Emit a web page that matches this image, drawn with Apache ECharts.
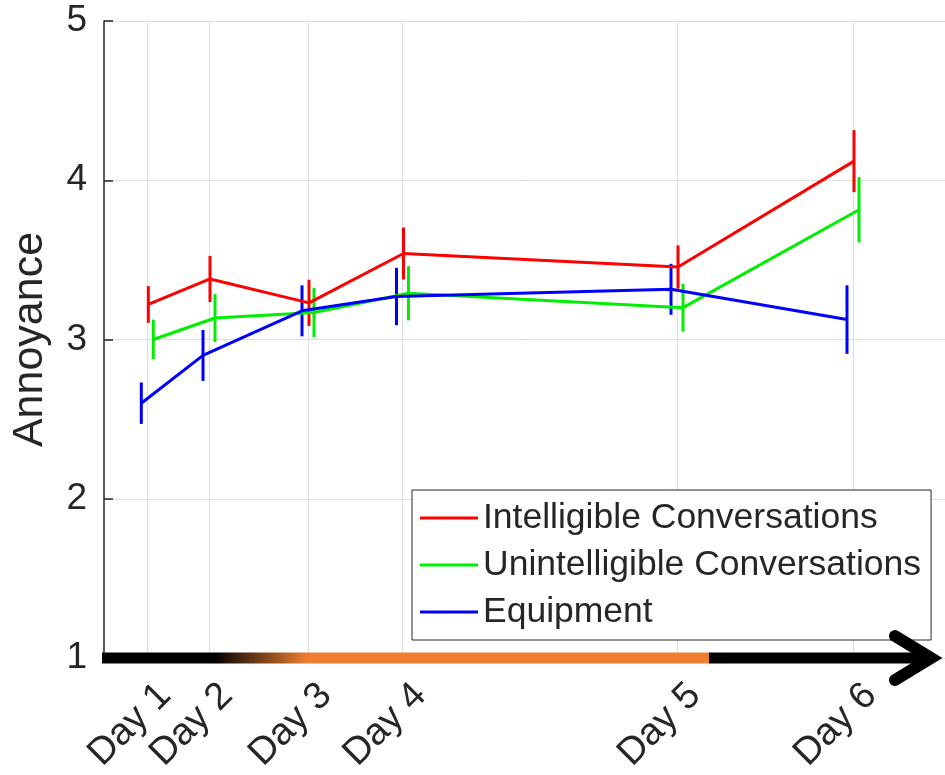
<!DOCTYPE html>
<html>
<head>
<meta charset="utf-8">
<script src="https://cdn.jsdelivr.net/npm/echarts@6/dist/echarts.min.js"></script>
<style>html,body{margin:0;padding:0;background:#fff}#c{width:945px;height:775px}</style>
</head>
<body>
<div id="c"></div>
<script>
// ---- data ----
const dayLabels = ['Day 1', 'Day 2', 'Day 3', 'Day 4', 'Day 5', 'Day 6'];
const dayPositions = [43.3, 105, 204, 298.5, 573, 749];   // x positions of the days (axis units)
const xMax = 841;
const yTicks = [1, 2, 3, 4, 5];

const seriesNames = ['Intelligible Conversations', 'Unintelligible Conversations', 'Equipment'];
const intelligibleMean = [3.22, 3.38, 3.23, 3.54, 3.455, 4.12];
const intelligibleErr  = [0.115, 0.145, 0.145, 0.163, 0.136, 0.195];
const unintelligibleMean = [3.00, 3.135, 3.17, 3.29, 3.20, 3.815];
const unintelligibleErr  = [0.125, 0.15, 0.155, 0.17, 0.15, 0.205];
const equipmentMean = [2.60, 2.90, 3.18, 3.27, 3.315, 3.125];
const equipmentErr  = [0.13, 0.16, 0.16, 0.18, 0.16, 0.215];

// timeline phases on the x axis: black -> (fade) -> orange -> black
const phaseStops = [110, 203, 605];

// ---- chart ----
const FONT = "'Liberation Sans', Arial, Helvetica, sans-serif";
const TXT = '#262626';
const colors = ['#ff0000', '#00ee00', '#0000ff'];
const offsets = [1, 6, -6];
const ORANGE = '#ED7D31';

function lineData(means, off) { return means.map((m, i) => [dayPositions[i] + off, m]); }
function errData(means, errs, off) { return means.map((m, i) => [dayPositions[i] + off, m - errs[i], m + errs[i]]); }

function lineSeries(idx, means) {
  return {
    type: 'line', name: seriesNames[idx], data: lineData(means, offsets[idx]),
    symbol: 'none', lineStyle: { color: colors[idx], width: 3 }, itemStyle: { color: colors[idx] },
    z: 3, silent: true
  };
}
function errSeries(idx, means, errs) {
  const color = colors[idx];
  return {
    type: 'custom', name: seriesNames[idx], data: errData(means, errs, offsets[idx]),
    encode: { x: 0, y: [1, 2] }, z: 3, silent: true,
    renderItem: (params, api) => {
      const x = api.value(0);
      const p1 = api.coord([x, api.value(1)]);
      const p2 = api.coord([x, api.value(2)]);
      return { type: 'line', shape: { x1: p1[0], y1: p1[1], x2: p2[0], y2: p2[1] },
               style: { stroke: color, lineWidth: 3 } };
    }
  };
}

const bandSeries = {
  type: 'custom', name: 'timeline', data: [[0, yTicks[0]]], encode: { x: 0, y: 1 },
  clip: false, silent: true, z: 6,
  renderItem: (params, api) => {
    const y = api.coord([0, yTicks[0]])[1];
    const x0 = params.coordSys.x - 2;
    const xs = phaseStops.map(v => api.coord([v, yTicks[0]])[0]);
    const tip = api.coord([xMax, yTicks[0]])[0];
    const h = 11;
    const vx = tip - 14;
    return {
      type: 'group',
      children: [
        { type: 'rect', shape: { x: x0, y: y - h / 2, width: xs[0] - x0, height: h }, style: { fill: '#000' } },
        { type: 'rect', shape: { x: xs[0], y: y - h / 2, width: xs[1] - xs[0], height: h },
          style: { fill: new echarts.graphic.LinearGradient(0, 0, 1, 0, [
            { offset: 0, color: '#000' }, { offset: 1, color: ORANGE }]) } },
        { type: 'rect', shape: { x: xs[1], y: y - h / 2, width: xs[2] - xs[1], height: h }, style: { fill: ORANGE } },
        { type: 'rect', shape: { x: xs[2], y: y - h / 2, width: vx - xs[2], height: h }, style: { fill: '#000' } },
        { type: 'polyline', shape: { points: [[tip - 50, y - 22], [vx, y], [tip - 50, y + 22]] },
          style: { stroke: '#000', fill: null, lineWidth: 12, lineCap: 'round', lineJoin: 'miter' } }
      ]
    };
  }
};

const option = {
  animation: false,
  backgroundColor: '#fff',
  textStyle: { fontFamily: FONT },
  grid: { left: 104, top: 21, right: 0, bottom: 117, containLabel: false, outerBoundsMode: 'none' },
  legend: {
    orient: 'vertical', left: 412, top: 490, data: seriesNames,
    padding: [8, 10, 8, 8], itemGap: 7, itemWidth: 58, itemHeight: 3, icon: 'rect',
    backgroundColor: '#fff', borderColor: TXT, borderWidth: 1,
    textStyle: { fontSize: 35.5, fontFamily: FONT, color: TXT, lineHeight: 40 },
    selectedMode: false
  },
  xAxis: {
    type: 'value', min: 0, max: xMax,
    axisLine: { show: false },
    axisTick: { show: false, customValues: dayPositions },
    splitLine: { show: true, lineStyle: { color: '#dedede', width: 1 } },
    axisLabel: {
      customValues: dayPositions, rotate: 45, margin: 14, verticalAlign: 'top', padding: [6, 0, 0, 0],
      fontSize: 38, fontFamily: FONT, color: TXT,
      formatter: v => dayLabels[dayPositions.indexOf(v)]
    }
  },
  yAxis: {
    type: 'value', min: 1, max: 5, interval: 1,
    name: 'Annoyance', nameLocation: 'middle', nameGap: 52,
    nameTextStyle: { fontSize: 43, fontFamily: FONT, color: TXT },
    axisLine: { show: true, lineStyle: { color: TXT, width: 1.5 } },
    axisTick: { show: true, inside: true, length: 9, lineStyle: { color: TXT, width: 1.5 } },
    splitLine: { show: true, lineStyle: { color: '#dedede', width: 1 } },
    axisLabel: { fontSize: 37, fontFamily: FONT, color: TXT, margin: 17 }
  },
  series: [
    lineSeries(0, intelligibleMean),
    lineSeries(1, unintelligibleMean),
    lineSeries(2, equipmentMean),
    errSeries(0, intelligibleMean, intelligibleErr),
    errSeries(1, unintelligibleMean, unintelligibleErr),
    errSeries(2, equipmentMean, equipmentErr),
    bandSeries
  ]
};

const chart = echarts.init(document.getElementById('c'), null, { renderer: 'canvas' });
chart.setOption(option);
</script>
</body>
</html>
